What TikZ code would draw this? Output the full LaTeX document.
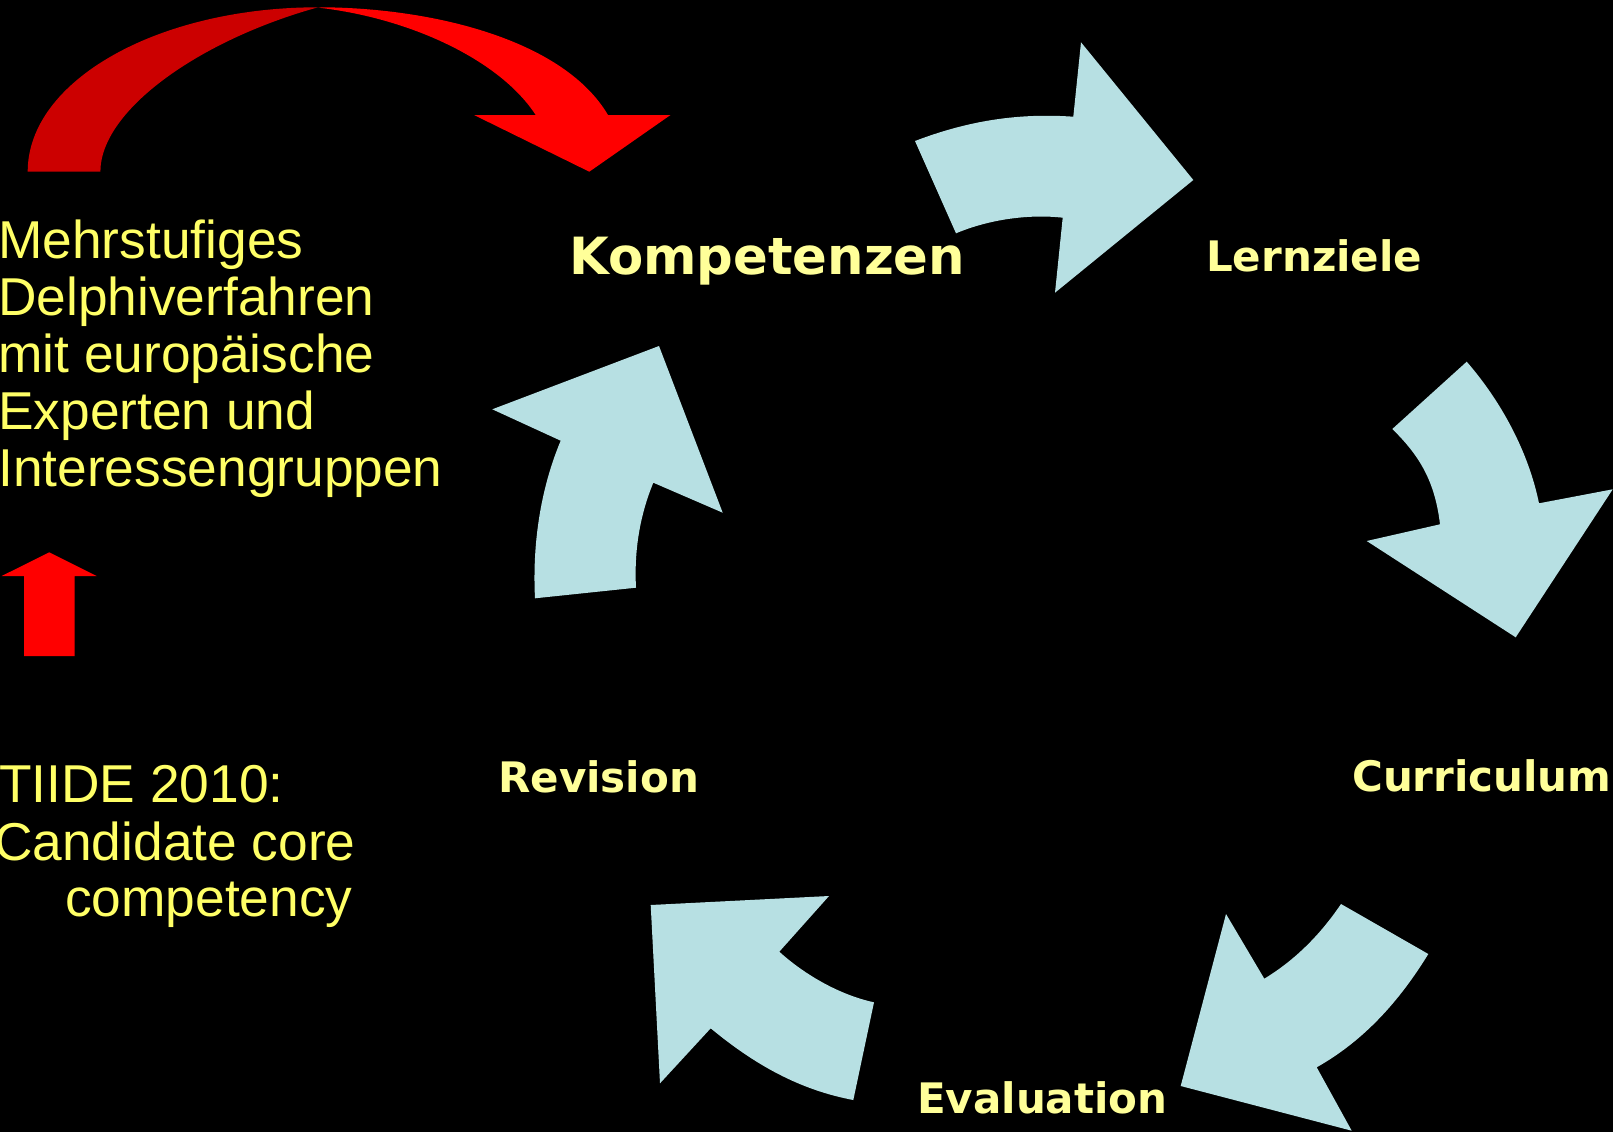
\documentclass[tikz,border=0pt]{standalone}
\usepackage{fontspec}
\newfontfamily\labfont{DejaVu Sans}
\newfontfamily\txtfont{Liberation Sans}
\definecolor{cycblue}{RGB}{183,224,227}
\definecolor{labyellow}{RGB}{255,255,153}
\definecolor{txtyellow}{RGB}{255,255,102}
\definecolor{backred}{RGB}{204,0,0}
\definecolor{frontred}{RGB}{255,0,0}
\begin{document}
\begin{tikzpicture}[x=1pt,y=-1pt,
  cycarrow/.style={fill=cycblue},
  lbl/.style={anchor=base west, inner sep=0pt, text=labyellow, font={\labfont\bfseries\fontsize{42}{46}\selectfont}},
  biglbl/.style={anchor=base west, inner sep=0pt, text=labyellow, font={\labfont\bfseries\fontsize{51.3}{56}\selectfont}},
  sidetxt/.style={anchor=base west, inner sep=0pt, text=txtyellow, font={\txtfont\fontsize{53.3}{57}\selectfont}}]
\fill[black] (0,0) rectangle (1613,1132);
\useasboundingbox (0,0) rectangle (1613,1132);

% cycle arrows
\fill[cycarrow] (915,141) .. controls (970,120) and (1020,113) .. (1073.3,116.7)
  -- (1081,42.3) -- (1193.3,180) -- (1055,292.7) -- (1062.7,217.7)
  .. controls (1030,214) and (990,219) .. (956,233.3) -- cycle;
\fill[cycarrow] (1466.7,361.7) .. controls (1500,400) and (1528,450) .. (1539,503.3)
  -- (1612.7,489.3) -- (1515.7,637.3) -- (1366.7,541) -- (1440,524.3)
  .. controls (1435,482) and (1420,456) .. (1392.3,429) -- cycle;
\fill[cycarrow] (1341,904) .. controls (1320,935) and (1295,960) .. (1264.3,978.7)
  -- (1226,914) -- (1180.7,1086) -- (1351.7,1130.7) -- (1316.7,1067.3)
  .. controls (1365,1040) and (1400,1000) .. (1428.3,954) -- cycle;
\fill[cycarrow] (874,1002.3) .. controls (840,995) and (805,975) .. (779.3,951.7)
  -- (829,896) -- (650.7,905) -- (660,1083.3) -- (710.7,1028.3)
  .. controls (755,1065) and (800,1090) .. (853.3,1100) -- cycle;
\fill[cycarrow] (535,598.3) .. controls (532,540) and (542,485) .. (560.7,440.7)
  -- (492.3,409.3) -- (659,346) -- (722.7,512.7) -- (653.3,482.7)
  .. controls (640,515) and (634,550) .. (636,587.7) -- cycle;

% red curved arrow
\fill[backred] (27.7,171.7) .. controls (27.7,80.6) and (158,7.3) .. (318,7.3)
  .. controls (200,40) and (100.4,110) .. (100.4,171.7) -- cycle;
\fill[frontred] (326,7.3) .. controls (440,9) and (565,42) .. (608,115)
  -- (670.5,115) -- (589.3,171.7) -- (474,115) -- (535.7,115)
  .. controls (500,60) and (410,18) .. (318,7.6) -- cycle;

% red up arrow
\fill[frontred] (49.3,552.3) -- (96.7,576) -- (74.7,576) -- (74.7,656)
  -- (24,656) -- (24,576) -- (1.7,576) -- cycle;

% labels
\node[biglbl] (komp) at (569,274.3) {Kompetenzen};
\node[lbl] (lern) at (1206,271) {Lernziele};
\node[lbl] (curr) at (1352,791) {Curriculum};
\node[lbl] (eval) at (917,1113) {Evaluation};
\node[lbl] (rev) at (498,792.5) {Revision};

% side texts
\node[sidetxt] (t1) at (-2,258.3) {Mehrstufiges};
\node[sidetxt] (t2) at (-2,315.2) {Delphiverfahren};
\node[sidetxt] (t3) at (-2,372.1) {mit europäische};
\node[sidetxt] (t4) at (-2,429) {Experten und};
\node[sidetxt] (t5) at (-2,486) {Interessengruppen};
\node[sidetxt] (s1) at (-1,802.7) {TIIDE 2010:};
\node[sidetxt] (s2) at (-6,860) {Candidate core};
\node[sidetxt] (s3) at (65,916.7) {competency};
\end{tikzpicture}
\end{document}
